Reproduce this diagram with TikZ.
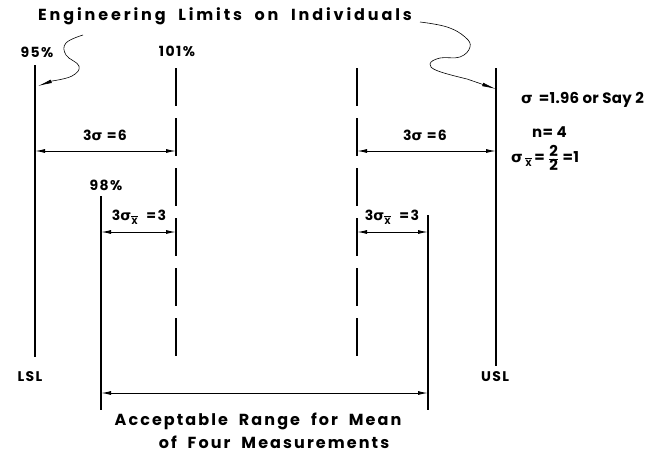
\documentclass[tikz,border=0pt]{standalone}
\usepackage{fontspec}
\setmainfont{Poppins}
\newfontfamily\gk{DejaVu Sans}
\usetikzlibrary{arrows.meta}
\newcommand{\sg}{{\gk σ}}
\newcommand{\xbs}{\raisebox{-4pt}{\fontsize{9}{9}\selectfont$\overline{\hbox{X}}$}}
\begin{document}
\begin{tikzpicture}[x=1pt,y=-1pt,
  lim/.style={line width=1.2pt},
  dsh/.style={line width=1.2pt, dash pattern=on 38pt off 12pt},
  dimarr/.style={line width=1pt, {Latex[length=10pt,width=4pt]}-{Latex[length=10pt,width=4pt]}},
  lbl/.style={inner sep=0pt, font=\fontsize{14}{16}\selectfont\addfontfeatures{LetterSpace=10}\bfseries},
  big/.style={inner sep=0pt, font=\fontsize{16}{18}\selectfont\addfontfeatures{LetterSpace=13}\bfseries},
  rlbl/.style={inner sep=0pt, anchor=west, font=\fontsize{15}{17}\selectfont\addfontfeatures{LetterSpace=2}\bfseries},
  lead/.style={line width=0.6pt, -{Latex[length=14pt,width=3.6pt]}}
]
\useasboundingbox (0,0) rectangle (655,455);
% limit lines
\coordinate (lslT) at (35,65);   \coordinate (lslB) at (35,357);
\coordinate (uslT) at (496,68);  \coordinate (uslB) at (496,366);
\coordinate (d1T) at (176,68);   \coordinate (d1B) at (176,358);
\coordinate (d2T) at (357,68);   \coordinate (d2B) at (357,356);
\coordinate (a1T) at (101,196);  \coordinate (a1B) at (101,410);
\coordinate (a2T) at (428,215);  \coordinate (a2B) at (428,410);
\draw[lim] (lslT) -- (lslB);
\draw[lim] (uslT) -- (uslB);
\draw[lim] (a1T) -- (a1B);
\draw[lim] (a2T) -- (a2B);
\draw[dsh] (d1T) -- (d1B);
\draw[dsh] (d2T) -- (d2B);
% dimension arrows
\coordinate (s1L) at (35,151);  \coordinate (s1R) at (176,151);
\coordinate (s2L) at (357,151); \coordinate (s2R) at (496,151);
\coordinate (m1L) at (101,232); \coordinate (m1R) at (176,232);
\coordinate (m2L) at (357,232); \coordinate (m2R) at (428,232);
\coordinate (rL) at (101,393);  \coordinate (rR) at (428,393);
\draw[dimarr] (s1L) -- (s1R);
\draw[dimarr] (s2L) -- (s2R);
\draw[dimarr] (m1L) -- (m1R);
\draw[dimarr] (m2L) -- (m2R);
\draw[dimarr] (rL) -- (rR);
% labels
\node[lbl, font=\fontsize{16}{18}\selectfont\addfontfeatures{LetterSpace=18}\bfseries] (title) at (225,16) {Engineering\ \ Limits\ \ on\ \ Individuals};
\node[lbl] (p95) at (37,52) {95\%};
\node[lbl] (p101) at (177,51) {101\%};
\node[lbl] (p98) at (106,185) {98\%};
\node[lbl] (t1) at (105,135) {3\sg\ =6};
\node[lbl] (t2) at (425,135) {3\sg\ =6};
\node[lbl] (u1) at (139,217) {3\sg\xbs\ \ =3};
\node[lbl] (u2) at (392,217) {3\sg\xbs\ \ =3};
\node[lbl] (lsl) at (30,377) {LSL};
\node[lbl] (usl) at (495,377) {USL};
\node[rlbl] (sig) at (521,100) {\sg\ \,=1.96 or Say 2};
\node[rlbl] (nn) at (532,132) {n= 4};
\node[rlbl] (sx) at (511,158) {\sg\,\xbs\,= $\frac{\hbox{\bfseries 2}}{\hbox{\bfseries 2}}$ =1};
\node[big] (acc1) at (258,421) {Acceptable\ \ Range\ \ for\ \ Mean};
\node[big] (acc2) at (274,442) {of\ \ Four\ \ Measurements};
% leaders
\coordinate (lq) at (38,86);
\coordinate (rq) at (496,89);
\draw[lead] plot[smooth, tension=0.7] coordinates {(83,35) (66,43) (66,55) (79,66) (72,76) (52,81)} -- (lq);
\draw[lead] plot[smooth, tension=0.7] coordinates {(420,22) (447,27) (465,37) (470,47) (460,57) (440,58) (430,64) (438,71) (467,79)} -- (rq);
\end{tikzpicture}
\end{document}
